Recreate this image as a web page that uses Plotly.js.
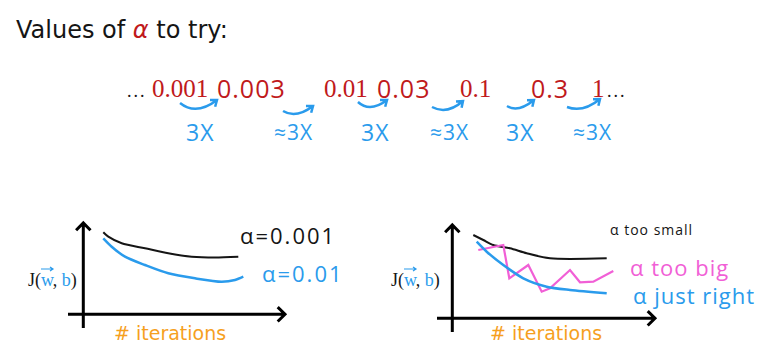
<!DOCTYPE html>
<html><head><meta charset="utf-8">
<script src="https://cdn.plot.ly/plotly-3.0.1.min.js"></script>
<style>html,body{margin:0;padding:0;background:#fff}#chart{width:775px;height:361px}</style>
</head><body><div id="chart"></div>
<script>
// ---------- data ----------
const alphaValues = ['0.001','0.003','0.01','0.03','0.1','0.3','1'];
const alphaHandwritten = [false,true,false,true,false,true,false];
const stepLabels = ['3X','≈3X','3X','≈3X','3X','≈3X'];

const leftSmallIter = [10,12.5,19.2,30.85,42.5,54.2,65.85,77.5];
const leftSmallCost = [8.2,7.76,7.1,6.6,6.1,5.76,5.68,5.76];
const leftMedIter = [10,14.2,20.85,30.85,42.5,55.85,69.2,75.85,80];
const leftMedCost = [7.6,6.76,5.76,4.93,4.1,3.6,3.26,3.43,3.76];

const rightSmallIter = [10.5,15.5,20.5,28.85,37.2,48.85,77.2];
const rightSmallCost = [8.33,7.83,7.33,7.0,6.5,6.0,6.0];
const rightGoodIter = [12.2,17.2,25.5,35.5,47.2,58.85,77.2];
const rightGoodCost = [7.66,6.66,5.33,4.0,3.16,2.83,2.5];
const rightBigIter = [13,18.85,25.5,28.5,38,44.7,48.85,58.85,63.85,70.5,80.5];
const rightBigCost = [6.83,7.06,7.33,4.0,5.33,2.66,3.0,4.83,3.6,3.66,4.73];

// ---------- layout helpers ----------
const W = 775, H = 361;
const RED = '#c0191b', BLUE = '#2a9bec', PINK = '#f15fd6', ORANGE = '#f6a01e', INK = '#151515';
const HAND = 'Open Sans, sans-serif', SERIF = 'Liberation Serif, serif', SANS = 'DejaVu Sans, Verdana, sans-serif';
const X = px => (px / W).toFixed(4);
const Y = py => (1 - py / H).toFixed(4);

function ann(text, x, y, size, color, family, xanchor) {
  return {text, x: x / W, y: 1 - y / H, xref: 'paper', yref: 'paper', showarrow: false,
    xanchor: xanchor || 'center', yanchor: 'middle', font: {size, color, family}};
}
function arrowPath(x0, y0, cx, cy, x1, y1, head) {
  head = head || 7;
  const dx = x1 - cx, dy = y1 - cy, L = Math.hypot(dx, dy);
  const ux = -dx / L, uy = -dy / L, a = 0.65;
  const ax1 = x1 + head * (ux * Math.cos(a) - uy * Math.sin(a));
  const ay1 = y1 + head * (ux * Math.sin(a) + uy * Math.cos(a));
  const ax2 = x1 + head * (ux * Math.cos(-a) - uy * Math.sin(-a));
  const ay2 = y1 + head * (ux * Math.sin(-a) + uy * Math.cos(-a));
  return `M ${X(x0)} ${Y(y0)} Q ${X(cx)} ${Y(cy)} ${X(x1)} ${Y(y1)} M ${X(ax1)} ${Y(ay1)} L ${X(x1)} ${Y(y1)} L ${X(ax2)} ${Y(ay2)}`;
}

// ---------- traces ----------
const traces = [
  {x: leftSmallIter, y: leftSmallCost, xaxis: 'x', yaxis: 'y', mode: 'lines',
   line: {color: INK, width: 2, shape: 'spline', smoothing: 0.8}},
  {x: leftMedIter, y: leftMedCost, xaxis: 'x', yaxis: 'y', mode: 'lines',
   line: {color: BLUE, width: 2.5, shape: 'spline', smoothing: 0.8}},
  {x: rightSmallIter, y: rightSmallCost, xaxis: 'x2', yaxis: 'y2', mode: 'lines',
   line: {color: INK, width: 2, shape: 'spline', smoothing: 0.8}},
  {x: rightBigIter, y: rightBigCost, xaxis: 'x2', yaxis: 'y2', mode: 'lines',
   line: {color: PINK, width: 2.2}},
  {x: rightGoodIter, y: rightGoodCost, xaxis: 'x2', yaxis: 'y2', mode: 'lines',
   line: {color: BLUE, width: 2.5, shape: 'spline', smoothing: 0.8}}
];

// ---------- annotations ----------
const annotations = [];
annotations.push(ann(`Values of <span style="color:${RED}"><i>α</i></span> to try:`, 14, 30, 24, INK, SANS, 'left'));

// row of learning-rate values
const valueCenters = [180, 251, 346, 403, 476, 550, 598];
const rowY = 89;
annotations.push(ann('<span style="letter-spacing:2px">...</span>', 137, rowY + 2, 18, INK, SERIF));
alphaValues.forEach((v, i) => {
  const hand = alphaHandwritten[i];
  annotations.push(ann(hand ? `<span style="letter-spacing:1px">${v}</span>` : v,
    valueCenters[i], hand ? rowY - 1 : rowY, 25, RED, hand ? HAND : SERIF));
});
annotations.push(ann('<span style="letter-spacing:2px">...</span>', 617, rowY + 2, 18, INK, SERIF));

// step labels and arrows
const stepCenters = [200, 293, 375, 449, 520, 592];
const stepArrows = [
  [180, 103, 196, 116, 217, 100],
  [283, 111, 296, 119, 313, 106],
  [358, 102, 370, 113, 387, 100],
  [432, 107, 447, 115, 463, 101],
  [507, 106, 518, 113, 534, 100],
  [567, 107, 583, 113, 600, 99]
];
stepLabels.forEach((s, i) => {
  annotations.push(ann(`<span style="letter-spacing:1px">${s}</span>`, stepCenters[i], 132, s.length > 2 ? 21 : 23, BLUE, HAND));
});

// chart labels
const jLabel = `J(<span style="color:${BLUE}">w</span>, <span style="color:${BLUE}">b</span>)`;
annotations.push(ann(jLabel, 52, 280, 18, INK, SERIF));
annotations.push(ann(jLabel, 415, 280, 18, INK, SERIF));
annotations.push(ann('# iterations', 170, 333, 19, ORANGE, SANS));
annotations.push(ann('# iterations', 546, 333, 19, ORANGE, SANS));
annotations.push(ann('<span style="letter-spacing:2px">α=0.001</span>', 288, 235, 22, INK, HAND));
annotations.push(ann('<span style="letter-spacing:2px">α=0.01</span>', 303, 273, 22, BLUE, HAND));
annotations.push(ann('<span style="letter-spacing:1px">α too small</span>', 651, 229, 14, INK, HAND));
annotations.push(ann('<span style="letter-spacing:1px">α too big</span>', 679, 267, 22, PINK, HAND));
annotations.push(ann('<span style="letter-spacing:1px">α just right</span>', 694, 295, 22, BLUE, HAND));

// ---------- shapes ----------
const shapes = [];
stepArrows.forEach(a => shapes.push({type: 'path', xref: 'paper', yref: 'paper',
  path: arrowPath(...a), line: {color: BLUE, width: 2.5}}));
// vector arrows over w
[ [52 - 11, 52 + 1], [415 - 11, 415 + 1] ].forEach(([a, b]) => {
  shapes.push({type: 'path', xref: 'paper', yref: 'paper',
    path: `M ${X(a)} ${Y(269)} L ${X(b)} ${Y(269)} M ${X(b - 3)} ${Y(267)} L ${X(b)} ${Y(269)} L ${X(b - 3)} ${Y(271)}`,
    line: {color: BLUE, width: 1.2}});
});
// hand-drawn axes (in data coordinates of each panel)
const axisStyle = {color: '#000', width: 3};
shapes.push({type: 'path', xref: 'x', yref: 'y', line: axisStyle,
  path: 'M 0 -1.37 L 0 9.13 M -3.6 8.4 L 0 9.13 L 3.6 8.4'});
shapes.push({type: 'path', xref: 'x', yref: 'y', line: axisStyle,
  path: 'M -7.65 0 L 100.85 0 M 97.2 0.72 L 100.85 0 L 97.2 -0.72'});
shapes.push({type: 'path', xref: 'x2', yref: 'y2', line: axisStyle,
  path: 'M 0 -1.37 L 0 9.33 M -3.6 8.6 L 0 9.33 L 3.6 8.6'});
shapes.push({type: 'path', xref: 'x2', yref: 'y2', line: axisStyle,
  path: 'M -7.65 0 L 101.35 0 M 97.7 0.72 L 101.35 0 L 97.7 -0.72'});

const hidden = {visible: false, fixedrange: true, showgrid: false, zeroline: false};
const layout = {
  width: W, height: H, margin: {l: 0, r: 0, t: 0, b: 0},
  paper_bgcolor: '#fff', plot_bgcolor: 'rgba(0,0,0,0)', showlegend: false,
  xaxis: Object.assign({domain: [55 / W, 300 / W], range: [-14.15, 108.35], anchor: 'y'}, hidden),
  yaxis: Object.assign({domain: [1 - 340 / H, 1 - 215 / H], range: [-2.57, 9.93], anchor: 'x'}, hidden),
  xaxis2: Object.assign({domain: [425 / W, 670 / W], range: [-13.65, 108.85], anchor: 'y2'}, hidden),
  yaxis2: Object.assign({domain: [1 - 340 / H, 1 - 215 / H], range: [-2.17, 10.33], anchor: 'x2'}, hidden),
  annotations, shapes
};
Plotly.newPlot('chart', traces, layout, {staticPlot: true, displayModeBar: false});
</script></body></html>
